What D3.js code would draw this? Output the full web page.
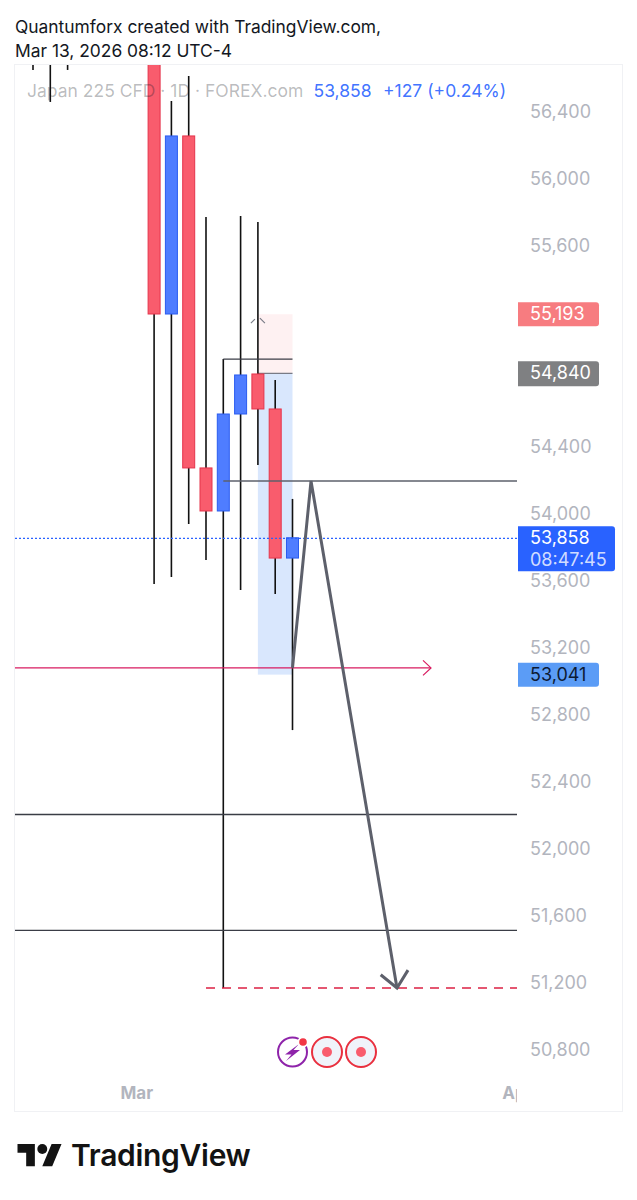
<!DOCTYPE html>
<html><head><meta charset="utf-8">
<style>html,body{margin:0;padding:0;background:#fff}svg{display:block}text{font-family:Inter,"Noto Sans",sans-serif}</style>
<script src="https://cdn.jsdelivr.net/npm/d3@7"></script></head><body>
<script>
const barIndex=[0,1,2,7,8,9,10,11,12,13,14,15];
const opens =[57000,57000,57000,57600,55194,56257,54275,54018,54597,54836,54627,53737];
const closes=[56800,56800,56800,55194,56257,54275,54018,54597,54830,54627,53737,53858];
const highs =[57200,57200,57200,58000,56466,56615,55773,54925,55779,55743,54800,54090];
const lows  =[56651,56460,56651,53582,53624,53940,53725,51170,53546,54293,53522,52710];
const priceTicks=[56400,56000,55600,54400,54000,53600,53200,52800,52400,52000,51600,51200,50800];
const timeLabels=["Mar","Apr"];
const timeIndex=[6,28];
const lastPrice=53858, changeText="+127 (+0.24%)", countdown="08:47:45";
const boxTop=55193, boxMid=54840, boxBottom=53041;
const levelSolid=[52209,51517], levelMid=54197, levelDashed=51170, levelUpper=54925, levelArrow=53081;
const zigzagIdx=[15,16.07,21.04], zigzagPrice=[53081,54197,51170];

const W=637,H=1200;
const x=d3.scaleLinear().domain([0,15]).range([33,292.5]);
const y=d3.scaleLinear().domain([56400,50800]).range([112,1050]);
const svg=d3.select("body").append("svg").attr("width",W).attr("height",H);
const fmt=d3.format(",");
const muted="#b2b5be",blue="#2962ff";

svg.append("rect").attr("x",14.5).attr("y",64.5).attr("width",608).attr("height",1047).attr("fill","#fff").attr("stroke","#f0f1f4");
svg.append("defs").append("clipPath").attr("id","plot").append("rect").attr("x",15).attr("y",65).attr("width",502).attr("height",1046);
svg.append("defs").append("clipPath").attr("id","timeclip").append("rect").attr("x",15).attr("y",1070).attr("width",502).attr("height",40);

const head=svg.append("g").attr("font-size",17.4).attr("fill","#131722");
head.append("text").attr("x",15).attr("y",32.5).text("Quantumforx created with TradingView.com,");
head.append("text").attr("x",15).attr("y",57).text("Mar 13, 2026 08:12 UTC-4");

const plot=svg.append("g").attr("clip-path","url(#plot)");

// position tool, under the candles
const bx0=x(13),bx1=x(15);
plot.append("rect").attr("x",bx0).attr("width",bx1-bx0).attr("y",y(boxTop)).attr("height",y(boxMid)-y(boxTop)).attr("fill","rgba(242,54,69,.07)");
plot.append("rect").attr("x",bx0).attr("width",bx1-bx0).attr("y",y(boxMid)).attr("height",y(boxBottom)-y(boxMid)).attr("fill","rgba(66,133,244,.2)");
plot.append("line").attr("x1",bx0).attr("x2",bx1).attr("y1",y(boxMid)).attr("y2",y(boxMid)).attr("stroke","#787b86").attr("stroke-width",1.2);
plot.append("path").attr("d",d3.line()([[x(13)-7,y(boxTop)+9],[x(13)-3,y(boxTop)+5]])).attr("stroke","#787b86").attr("stroke-width",1.2).attr("fill","none");
plot.append("path").attr("d",d3.line()([[x(13)+2,y(boxTop)+4],[x(13)+7,y(boxTop)+9]])).attr("stroke","#787b86").attr("stroke-width",1.2).attr("fill","none");

const n=barIndex.length, idx=d3.range(n);
const bw=13;
plot.selectAll(".wick").data(idx).join("line").attr("class","wick")
 .attr("x1",i=>x(barIndex[i])).attr("x2",i=>x(barIndex[i])).attr("y1",i=>y(highs[i])).attr("y2",i=>y(lows[i]))
 .attr("stroke","#111").attr("stroke-width",1.6);
plot.selectAll(".body").data(idx).join("rect").attr("class","body")
 .attr("x",i=>x(barIndex[i])-bw/2+.5).attr("width",bw-1)
 .attr("y",i=>y(Math.max(opens[i],closes[i]))).attr("height",i=>Math.abs(y(opens[i])-y(closes[i])))
 .attr("fill",i=>closes[i]>opens[i]?"#4f7dff":"#f95c6d")
 .attr("stroke",i=>closes[i]>opens[i]?"#2a5cf0":"#e5344b").attr("stroke-width",1);

// levels
plot.append("line").attr("x1",x(11)).attr("x2",x(15)).attr("y1",y(levelUpper)).attr("y2",y(levelUpper)).attr("stroke","#3a3d46").attr("stroke-width",1.3);
plot.selectAll(".lv").data(levelSolid).join("line").attr("class","lv").attr("x1",15).attr("x2",517).attr("y1",d=>y(d)+.5).attr("y2",d=>y(d)+.5).attr("stroke","#3a3d46").attr("stroke-width",1.3);
plot.append("line").attr("x1",x(11)).attr("x2",517).attr("y1",y(levelMid)).attr("y2",y(levelMid)).attr("stroke","#5d606b").attr("stroke-width",1.5);
plot.append("line").attr("x1",x(10)).attr("x2",517).attr("y1",y(levelDashed)).attr("y2",y(levelDashed)).attr("stroke","#dc2043").attr("stroke-width",1.5).attr("stroke-dasharray","9 7");
plot.append("line").attr("x1",15).attr("x2",517).attr("y1",y(lastPrice)+.5).attr("y2",y(lastPrice)+.5).attr("stroke",blue).attr("stroke-width",1.3).attr("stroke-dasharray","2 2");
// pink arrow
const ay=y(levelArrow);
plot.append("line").attr("x1",15).attr("x2",431).attr("y1",ay).attr("y2",ay).attr("stroke","#d81b60").attr("stroke-width",1.2);
plot.append("path").attr("d",d3.line()([[423,ay-7.5],[431,ay],[423,ay+7.5]])).attr("fill","none").attr("stroke","#d81b60").attr("stroke-width",1.2);
// zigzag
const zz=zigzagIdx.map((d,i)=>[x(d),y(zigzagPrice[i])]);
plot.append("path").attr("d",d3.line()(zz)).attr("fill","none").attr("stroke","#5d606b").attr("stroke-width",3).attr("stroke-linejoin","miter");
const tip=zz[2],prev=zz[1],ang=Math.atan2(prev[1]-tip[1],prev[0]-tip[0]);
const barb=s=>[tip[0]+21*Math.cos(ang+s),tip[1]+21*Math.sin(ang+s)];
plot.append("path").attr("d",d3.line()([barb(.72),tip,barb(-.72)])).attr("fill","none").attr("stroke","#5d606b").attr("stroke-width",3);

// legend
const leg=svg.append("text").attr("y",97).attr("font-size",17.5);
leg.append("tspan").attr("x",27).attr("fill","#131722").attr("fill-opacity",.3).text("Japan 225 CFD · 1D · FOREX.com");
leg.append("tspan").attr("x",313.5).attr("fill",blue).attr("fill-opacity",.9).text(fmt(lastPrice));
leg.append("tspan").attr("x",383).attr("fill",blue).attr("fill-opacity",.9).text(changeText);

// price axis
const yAxis=d3.axisRight(y).tickValues(priceTicks).tickSize(0).tickPadding(0).tickFormat(fmt);
const ga=svg.append("g").attr("transform","translate(530,0)").call(yAxis);
ga.select(".domain").remove();
ga.selectAll("text").attr("font-size",18).attr("fill",muted).attr("font-family","Inter").attr("dy","0.3em");

function tag(v,w,h,fill,tcolor,extra){
  const c=y(v), top=extra?c-11.5:c-12;
  svg.append("path").attr("fill",fill).attr("d",`M518 ${top}H${518+w-3}a3 3 0 0 1 3 3V${top+h-3}a3 3 0 0 1 -3 3H518Z`);
  svg.append("text").attr("x",530).attr("y",top+18).attr("font-size",18).attr("fill",tcolor).text(fmt(v));
  if(extra) svg.append("text").attr("x",530).attr("y",top+39.5).attr("font-size",18).attr("fill",tcolor).attr("fill-opacity",.8).text(extra);
}
tag(boxTop,81,24,"#f77c80","#fff");
tag(boxMid,81,25,"#7f8082","#fff");
tag(lastPrice,97,45,blue,"#fff",countdown);
tag(boxBottom,81,24,"#5b9cf6","#0c1a33");

// time axis
const ta=svg.append("g").attr("clip-path","url(#timeclip)");
ta.selectAll("text").data(timeLabels).join("text").attr("x",(d,i)=>x(timeIndex[i])).attr("y",1099)
 .attr("text-anchor","middle").attr("font-size",17).attr("font-weight",700).attr("fill",muted).text(d=>d);

// event icons
const ic=svg.append("g");
ic.append("circle").attr("cx",292.5).attr("cy",1052).attr("r",14.5).attr("fill","#fff").attr("stroke","#8e24aa").attr("stroke-width",2);
ic.append("path").attr("d","M299 1044L285 1054.5H291.5L286 1061L300 1050H293.5Z").attr("fill","#8e24aa");
ic.append("circle").attr("cx",303).attr("cy",1042).attr("r",5.5).attr("fill","#fff");
ic.append("circle").attr("cx",303).attr("cy",1042).attr("r",3.8).attr("fill","#f23645");
[327,361].forEach(cx=>{
 ic.append("circle").attr("cx",cx).attr("cy",1052).attr("r",15).attr("fill","#f0f3fa").attr("stroke","#e9303f").attr("stroke-width",2);
 ic.append("circle").attr("cx",cx).attr("cy",1052).attr("r",5).attr("fill","#f95c6d");
});

// logo
const lg=svg.append("g").attr("transform","translate(17.5,1139) scale(1.24)").attr("fill","#131313");
lg.append("path").attr("d","M14 22H7V11H0V4h14v18zM28 22h-8l7.5-18h8L28 22z");
lg.append("circle").attr("cx",20).attr("cy",8).attr("r",4);
svg.append("text").attr("x",71).attr("y",1166).attr("font-size",30).attr("font-weight",600).attr("letter-spacing",-.3).attr("fill","#131313").text("TradingView");
</script></body></html>
